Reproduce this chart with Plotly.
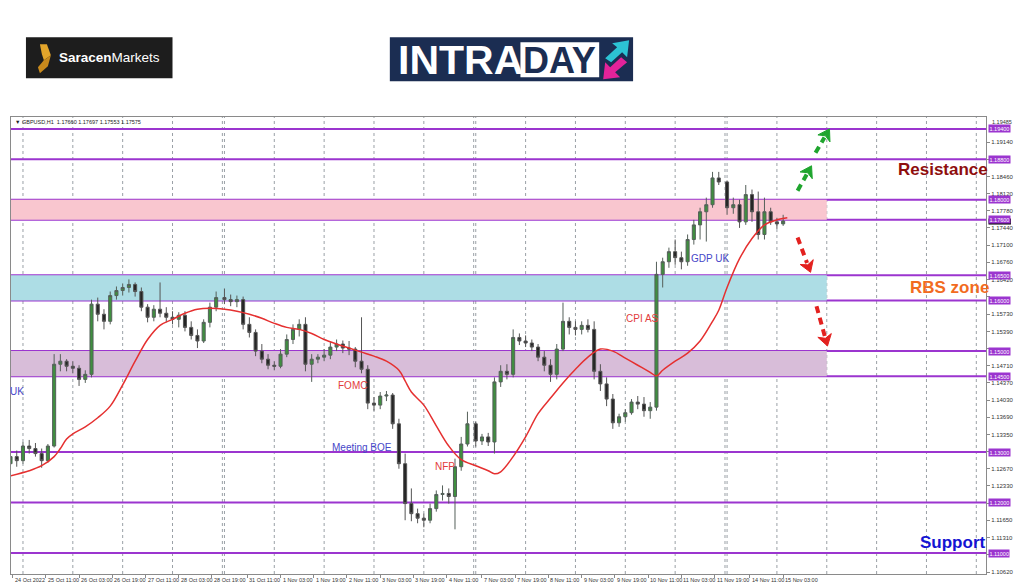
import plotly.graph_objects as go

# ---------------- data ----------------
symbol_header = "\u25BC GBPUSD,H1  1.17660 1.17697 1.17553 1.17575"

trading_days = ["2022-10-25", "2022-10-26", "2022-10-27", "2022-10-28",
                "2022-10-31", "2022-11-01", "2022-11-02", "2022-11-03", "2022-11-04",
                "2022-11-07", "2022-11-08", "2022-11-09", "2022-11-10", "2022-11-11",
                "2022-11-14"]
bar_time = (["2022-10-24 18:00", "2022-10-24 21:00"]
            + [f"{d} {h:02d}:00" for d in trading_days for h in range(0, 24, 3)]
            + ["2022-11-15 00:00", "2022-11-15 03:00"])

open_ = [1.1277, 1.1291, 1.1283, 1.1312, 1.1307, 1.1297, 1.1283, 1.1312, 1.1474, 1.1480,
         1.1470, 1.1466, 1.1444, 1.1454, 1.1593, 1.1573, 1.1559, 1.1610, 1.1620, 1.1626,
         1.1632, 1.1618, 1.1587, 1.1567, 1.1583, 1.1575, 1.1567, 1.1563, 1.1571, 1.1547,
         1.1531, 1.1520, 1.1557, 1.1587, 1.1606, 1.1602, 1.1598, 1.1602, 1.1553, 1.1537,
         1.1500, 1.1484, 1.1472, 1.1470, 1.1494, 1.1523, 1.1543, 1.1553, 1.1474, 1.1484,
         1.1488, 1.1492, 1.1508, 1.1514, 1.1506, 1.1504, 1.1480, 1.1464, 1.1397, 1.1393,
         1.1411, 1.1413, 1.1356, 1.1277, 1.1198, 1.1178, 1.1169, 1.1165, 1.1188, 1.1216,
         1.1218, 1.1212, 1.1271, 1.1316, 1.1356, 1.1322, 1.1330, 1.1320, 1.1439, 1.1460,
         1.1454, 1.1527, 1.1520, 1.1516, 1.1508, 1.1488, 1.1472, 1.1454, 1.1504, 1.1559,
         1.1547, 1.1543, 1.1551, 1.1543, 1.1460, 1.1435, 1.1405, 1.1358, 1.1370, 1.1378,
         1.1399, 1.1395, 1.1382, 1.1389, 1.1652, 1.1677, 1.1697, 1.1685, 1.1677, 1.1721,
         1.1750, 1.1776, 1.1790, 1.1843, 1.1835, 1.1784, 1.1790, 1.1756, 1.1810, 1.1776,
         1.1731, 1.1776, 1.1756, 1.1752]
high = [1.1316, 1.1303, 1.1320, 1.1324, 1.1318, 1.1307, 1.1316, 1.1494, 1.1494, 1.1484,
        1.1480, 1.1472, 1.1462, 1.1602, 1.1606, 1.1583, 1.1618, 1.1628, 1.1634, 1.1642,
        1.1636, 1.1626, 1.1593, 1.1591, 1.1636, 1.1587, 1.1579, 1.1577, 1.1579, 1.1559,
        1.1543, 1.1563, 1.1596, 1.1618, 1.1624, 1.1612, 1.1610, 1.1608, 1.1567, 1.1543,
        1.1514, 1.1494, 1.1480, 1.1504, 1.1533, 1.1553, 1.1563, 1.1567, 1.1494, 1.1494,
        1.1504, 1.1518, 1.1523, 1.1521, 1.1520, 1.1508, 1.1567, 1.1472, 1.1409, 1.1419,
        1.1421, 1.1417, 1.1366, 1.1297, 1.1228, 1.1188, 1.1178, 1.1198, 1.1224, 1.1234,
        1.1228, 1.1287, 1.1330, 1.1380, 1.1360, 1.1336, 1.1338, 1.1448, 1.1472, 1.1474,
        1.1543, 1.1535, 1.1531, 1.1523, 1.1514, 1.1500, 1.1484, 1.1514, 1.1596, 1.1567,
        1.1559, 1.1559, 1.1563, 1.1559, 1.1474, 1.1448, 1.1415, 1.1376, 1.1385, 1.1405,
        1.1411, 1.1409, 1.1399, 1.1677, 1.1685, 1.1705, 1.1721, 1.1697, 1.1731, 1.1760,
        1.1784, 1.1804, 1.1855, 1.1855, 1.1838, 1.1804, 1.1800, 1.1829, 1.1820, 1.1816,
        1.1804, 1.1784, 1.1764, 1.1770]
low = [1.1267, 1.1271, 1.1277, 1.1297, 1.1291, 1.1269, 1.1279, 1.1309, 1.1460, 1.1460,
       1.1456, 1.1431, 1.1437, 1.1448, 1.1559, 1.1543, 1.1553, 1.1602, 1.1610, 1.1616,
       1.1608, 1.1579, 1.1557, 1.1559, 1.1567, 1.1557, 1.1553, 1.1547, 1.1539, 1.1523,
       1.1506, 1.1516, 1.1547, 1.1579, 1.1593, 1.1589, 1.1587, 1.1543, 1.1527, 1.1490,
       1.1476, 1.1464, 1.1462, 1.1466, 1.1488, 1.1514, 1.1529, 1.1460, 1.1439, 1.1476,
       1.1480, 1.1484, 1.1500, 1.1496, 1.1492, 1.1468, 1.1456, 1.1385, 1.1382, 1.1385,
       1.1401, 1.1346, 1.1267, 1.1165, 1.1163, 1.1159, 1.1151, 1.1159, 1.1182, 1.1204,
       1.1198, 1.1147, 1.1263, 1.1311, 1.1311, 1.1314, 1.1312, 1.1297, 1.1429, 1.1444,
       1.1448, 1.1512, 1.1508, 1.1500, 1.1480, 1.1460, 1.1439, 1.1444, 1.1500, 1.1533,
       1.1531, 1.1533, 1.1537, 1.1444, 1.1421, 1.1391, 1.1346, 1.1350, 1.1360, 1.1374,
       1.1385, 1.1370, 1.1366, 1.1382, 1.1626, 1.1665, 1.1671, 1.1662, 1.1669, 1.1711,
       1.1721, 1.1717, 1.1784, 1.1829, 1.1770, 1.1772, 1.1744, 1.1750, 1.1756, 1.1721,
       1.1721, 1.1750, 1.1742, 1.1748]
close = [1.1291, 1.1283, 1.1312, 1.1307, 1.1297, 1.1283, 1.1312, 1.1474, 1.1480, 1.1470,
         1.1466, 1.1444, 1.1454, 1.1593, 1.1573, 1.1559, 1.1610, 1.1620, 1.1626, 1.1632,
         1.1618, 1.1587, 1.1567, 1.1583, 1.1575, 1.1567, 1.1563, 1.1571, 1.1547, 1.1531,
         1.1520, 1.1557, 1.1587, 1.1606, 1.1602, 1.1598, 1.1602, 1.1553, 1.1537, 1.1500,
         1.1484, 1.1472, 1.1470, 1.1494, 1.1523, 1.1543, 1.1553, 1.1474, 1.1484, 1.1488,
         1.1492, 1.1508, 1.1514, 1.1506, 1.1504, 1.1480, 1.1464, 1.1397, 1.1393, 1.1411,
         1.1413, 1.1356, 1.1277, 1.1198, 1.1178, 1.1169, 1.1165, 1.1188, 1.1216, 1.1218,
         1.1212, 1.1271, 1.1316, 1.1356, 1.1322, 1.1330, 1.1320, 1.1439, 1.1460, 1.1454,
         1.1527, 1.1520, 1.1516, 1.1508, 1.1488, 1.1472, 1.1454, 1.1504, 1.1559, 1.1547,
         1.1543, 1.1551, 1.1543, 1.1460, 1.1435, 1.1405, 1.1358, 1.1370, 1.1378, 1.1399,
         1.1395, 1.1382, 1.1389, 1.1652, 1.1677, 1.1697, 1.1685, 1.1677, 1.1721, 1.1750,
         1.1776, 1.1790, 1.1843, 1.1835, 1.1784, 1.1790, 1.1756, 1.1810, 1.1776, 1.1731,
         1.1776, 1.1756, 1.1752, 1.17575]

ma_time = ["2022-10-24 18:00", "2022-10-25 03:00", "2022-10-25 09:00", "2022-10-25 15:00",
           "2022-10-25 18:00", "2022-10-25 21:00", "2022-10-26 00:00", "2022-10-26 06:00",
           "2022-10-26 12:00", "2022-10-26 18:00", "2022-10-27 00:00", "2022-10-27 06:00",
           "2022-10-27 12:00", "2022-10-27 18:00", "2022-10-28 00:00", "2022-10-28 06:00",
           "2022-10-28 12:00", "2022-10-28 18:00", "2022-10-31 00:00", "2022-10-31 06:00",
           "2022-10-31 12:00", "2022-10-31 18:00", "2022-11-01 00:00", "2022-11-01 06:00",
           "2022-11-01 12:00", "2022-11-01 18:00", "2022-11-02 00:00", "2022-11-02 06:00",
           "2022-11-02 12:00", "2022-11-02 18:00", "2022-11-03 00:00", "2022-11-03 06:00",
           "2022-11-03 12:00", "2022-11-03 15:00", "2022-11-03 18:00", "2022-11-04 00:00",
           "2022-11-04 06:00", "2022-11-04 12:00", "2022-11-04 18:00", "2022-11-07 00:00",
           "2022-11-07 06:00", "2022-11-07 09:00", "2022-11-07 12:00", "2022-11-07 18:00",
           "2022-11-08 00:00", "2022-11-08 06:00", "2022-11-08 12:00", "2022-11-08 18:00",
           "2022-11-09 00:00", "2022-11-09 06:00", "2022-11-09 12:00", "2022-11-09 18:00",
           "2022-11-10 00:00", "2022-11-10 06:00", "2022-11-10 12:00", "2022-11-10 15:00",
           "2022-11-10 18:00", "2022-11-11 00:00", "2022-11-11 06:00", "2022-11-11 12:00",
           "2022-11-11 18:00", "2022-11-11 21:00", "2022-11-14 00:00", "2022-11-14 06:00",
           "2022-11-14 12:00", "2022-11-14 18:00", "2022-11-15 00:00", "2022-11-15 05:00"]
ma_value = [1.1253, 1.1263, 1.1273, 1.1291, 1.1307, 1.1326, 1.1336, 1.1350, 1.1368, 1.1391,
            1.1433, 1.1480, 1.1523, 1.1551, 1.1563, 1.1575, 1.1583, 1.1585, 1.1583, 1.1579,
            1.1573, 1.1565, 1.1555, 1.1547, 1.1543, 1.1535, 1.1523, 1.1514, 1.1506, 1.1498,
            1.1490, 1.1480, 1.1462, 1.1441, 1.1419, 1.1393, 1.1352, 1.1312, 1.1285, 1.1273,
            1.1263, 1.1257, 1.1261, 1.1291, 1.1330, 1.1376, 1.1407, 1.1437, 1.1464, 1.1488,
            1.1504, 1.1500, 1.1486, 1.1472, 1.1458, 1.1451, 1.1462, 1.1480, 1.1496, 1.1520,
            1.1559, 1.1581, 1.1626, 1.1683, 1.1723, 1.1750, 1.1760, 1.1764]

level_prices = [1.19400, 1.18800, 1.18000, 1.17600, 1.16500, 1.16000,
                1.15000, 1.14500, 1.13000, 1.12000, 1.11000]
current_price = 1.17575

zone_low = [1.17600, 1.16000, 1.14500]
zone_high = [1.18000, 1.16500, 1.15000]
zone_start = "2022-10-24 00:00"
zone_end = "2022-11-16 00:00"

price_ticks = [1.10620, 1.10970, 1.11310, 1.11650, 1.11990, 1.12330, 1.12670, 1.13010,
               1.13350, 1.13690, 1.14030, 1.14370, 1.14710, 1.15050, 1.15390, 1.15730,
               1.16080, 1.16420, 1.16760, 1.17100, 1.17440, 1.17780, 1.18120, 1.18460,
               1.18800, 1.19140]
top_price_label = 1.19485
# tick labels that sit completely under a price-level box in the reference
hidden_ticks = [1.10970, 1.11990, 1.13010, 1.15050, 1.16080, 1.18800]

label_times = ["2022-10-24 19:00", "2022-10-25 11:00", "2022-10-26 03:00", "2022-10-26 19:00",
               "2022-10-27 11:00", "2022-10-28 03:00", "2022-10-28 19:00", "2022-10-31 11:00",
               "2022-11-01 03:00", "2022-11-01 19:00", "2022-11-02 11:00", "2022-11-03 03:00",
               "2022-11-03 19:00", "2022-11-04 11:00", "2022-11-07 03:00", "2022-11-07 19:00",
               "2022-11-08 11:00", "2022-11-09 03:00", "2022-11-09 19:00", "2022-11-10 11:00",
               "2022-11-11 03:00", "2022-11-11 19:00", "2022-11-14 11:00", "2022-11-15 03:00"]
label_texts = ["24 Oct 2022", "25 Oct 11:00", "26 Oct 03:00", "26 Oct 19:00",
               "27 Oct 11:00", "28 Oct 03:00", "28 Oct 19:00", "31 Oct 11:00",
               "1 Nov 03:00", "1 Nov 19:00", "2 Nov 11:00", "3 Nov 03:00",
               "3 Nov 19:00", "4 Nov 11:00", "7 Nov 03:00", "7 Nov 19:00",
               "8 Nov 11:00", "9 Nov 03:00", "9 Nov 19:00", "10 Nov 11:00",
               "11 Nov 03:00", "11 Nov 19:00", "14 Nov 11:00", "15 Nov 03:00"]

grid_times = ["2022-10-25", "2022-10-26", "2022-10-27", "2022-10-28", "2022-10-30 23:00",
              "2022-10-31", "2022-11-01", "2022-11-02", "2022-11-03", "2022-11-04",
              "2022-11-06 23:00", "2022-11-07", "2022-11-08", "2022-11-09", "2022-11-10",
              "2022-11-11", "2022-11-13 23:00", "2022-11-14", "2022-11-15", "2022-11-16",
              "2022-11-17", "2022-11-18", "2022-11-19"]

event_texts = ["UK", "FOMC", "Meeting BOE", "NFP", "CPI AS", "GDP UK"]
zone_titles = ["Resistance", "RBS zone", "Support"]

# ---------------- layout helpers (pixel -> paper) ----------------
L, R, T, B = 10, 988, 117, 576
W, H = 1024, 587


def px(x):
    return (x - L) / (R - L)


def py(y):
    return (B - y) / (B - T)


fig = go.Figure()

fig.add_trace(go.Candlestick(
    x=bar_time, open=open_, high=high, low=low, close=close,
    increasing=dict(line=dict(color="#55605a", width=1), fillcolor="#3f8f3f"),
    decreasing=dict(line=dict(color="#555555", width=1), fillcolor="#262626"),
    whiskerwidth=0, hoverinfo="skip", showlegend=False))

fig.add_trace(go.Scatter(
    x=ma_time, y=ma_value, mode="lines", line=dict(color="#E53030", width=1.5, shape="spline"),
    hoverinfo="skip", showlegend=False))

shapes = []
zone_colors = ["#F9C6CF", "#ADDDE5", "#D8BDD9"]
for lo, hi, c in zip(zone_low, zone_high, zone_colors):
    shapes.append(dict(type="rect", xref="x", yref="y", x0=zone_start, x1=zone_end,
                       y0=lo, y1=hi, fillcolor=c, line=dict(width=0), layer="below"))
for g in grid_times:
    shapes.append(dict(type="line", xref="x", yref="paper", x0=g, x1=g, y0=0, y1=1,
                       line=dict(color="#9aa0a6", width=1, dash="dot"), layer="below"))
for lv in level_prices:
    shapes.append(dict(type="line", xref="paper", yref="y", x0=0, x1=1, y0=lv, y1=lv,
                       line=dict(color="#9B35CF", width=2), layer="below"))


def dashed_arrow(x0, y0, tx, ty, color):
    dx, dy = tx - x0, ty - y0
    n = (dx * dx + dy * dy) ** 0.5
    ux, uy = dx / n, dy / n
    hl, hw = 11, 7
    bx, by = tx - ux * hl, ty - uy * hl
    shapes.append(dict(type="line", xref="paper", yref="paper",
                       x0=px(x0), y0=py(y0), x1=px(bx + ux * 1), y1=py(by + uy * 1),
                       line=dict(color=color, width=4, dash="7px,5px")))
    p1 = (bx - uy * hw, by + ux * hw)
    p2 = (bx + uy * hw, by - ux * hw)
    path = (f"M {px(tx)},{py(ty)} L {px(p1[0])},{py(p1[1])} "
            f"L {px(bx + ux * 3)},{py(by + uy * 3)} L {px(p2[0])},{py(p2[1])} Z")
    shapes.append(dict(type="path", xref="paper", yref="paper", path=path,
                       fillcolor=color, line=dict(color=color, width=1)))


dashed_arrow(799, 191, 813, 166, "#1FA52E")
dashed_arrow(817, 153, 831, 129, "#1FA52E")
dashed_arrow(799, 238, 812, 273, "#E3211F")
dashed_arrow(818, 307, 829, 347, "#E3211F")

# current price marker on the price scale (mostly hidden under the 1.17600 box)
shapes.append(dict(type="rect", xref="paper", yref="paper", x0=px(990.5), x1=px(1013),
                   y0=py(225), y1=py(219), fillcolor="#000000", line=dict(width=0)))

# ---- logos (decoration) ----
shapes.append(dict(type="rect", xref="paper", yref="paper", x0=px(25), x1=px(172),
                   y0=py(78), y1=py(37), fillcolor="#1d1d1d", line=dict(width=0)))
shapes.append(dict(type="path", xref="paper", yref="paper",
                   path=f"M {px(39)},{py(44)} L {px(46)},{py(44)} L {px(50)},{py(55)} "
                        f"L {px(43)},{py(60)} L {px(41)},{py(54)} Z",
                   fillcolor="#E3A52B", line=dict(width=0)))
shapes.append(dict(type="path", xref="paper", yref="paper",
                   path=f"M {px(43)},{py(60)} L {px(50)},{py(55)} L {px(47)},{py(66)} "
                        f"L {px(39)},{py(73)} L {px(37)},{py(67)} Z",
                   fillcolor="#C98A1C", line=dict(width=0)))
shapes.append(dict(type="rect", xref="paper", yref="paper", x0=px(390), x1=px(634),
                   y0=py(81), y1=py(37), fillcolor="#1B2D52", line=dict(width=0)))
shapes.append(dict(type="rect", xref="paper", yref="paper", x0=px(521), x1=px(600),
                   y0=py(77), y1=py(42), fillcolor="#FFFFFF", line=dict(width=0)))
shapes.append(dict(type="path", xref="paper", yref="paper",
                   path=f"M {px(606)},{py(58)} L {px(618)},{py(47)} L {px(613)},{py(43)} "
                        f"L {px(630)},{py(40)} L {px(628)},{py(57)} L {px(623)},{py(52)} "
                        f"L {px(612)},{py(62)} Z",
                   fillcolor="#2CC3D4", line=dict(width=0)))
shapes.append(dict(type="path", xref="paper", yref="paper",
                   path=f"M {px(628)},{py(62)} L {px(616)},{py(72)} L {px(621)},{py(77)} "
                        f"L {px(604)},{py(79)} L {px(606)},{py(62)} L {px(611)},{py(67)} "
                        f"L {px(622)},{py(57)} Z",
                   fillcolor="#E3239A", line=dict(width=0)))

ann = []
ann.append(dict(xref="paper", yref="paper", x=px(56), y=py(57), xanchor="left", yanchor="middle",
                text="<b>Saracen</b>Markets", showarrow=False,
                font=dict(family="Liberation Sans", size=13.5, color="#FFFFFF")))
ann.append(dict(xref="paper", yref="paper", x=px(396), y=py(60), xanchor="left", yanchor="middle",
                text="<b>INTRA</b>", showarrow=False,
                font=dict(family="Liberation Sans", size=41, color="#FFFFFF")))
ann.append(dict(xref="paper", yref="paper", x=px(560.5), y=py(60), xanchor="center", yanchor="middle",
                text="<b>DAY</b>", showarrow=False,
                font=dict(family="Liberation Sans", size=36, color="#1B2D52")))

# header
ann.append(dict(xref="paper", yref="paper", x=px(12), y=py(122), xanchor="left", yanchor="middle",
                text=symbol_header, showarrow=False,
                font=dict(family="Liberation Sans", size=5.5, color="#222222")))

# x labels (left-aligned at bar like MT4)
for t, s in zip(label_times, label_texts):
    ann.append(dict(xref="x", yref="paper", x=t, y=py(577.5), xanchor="left", yanchor="top",
                    text=s, showarrow=False,
                    font=dict(family="Liberation Sans", size=5.5, color="#333333")))

# topmost price-scale label, squeezed just above the 1.19400 box as in MT4
ann.append(dict(xref="paper", yref="paper", x=px(992), y=py(122), xanchor="left",
                yanchor="middle", text=f"{top_price_label:.5f}", showarrow=False,
                font=dict(family="Liberation Sans", size=5.5, color="#333333")))

# price level boxes on right axis
for lv in level_prices:
    ann.append(dict(xref="paper", yref="y", x=px(990.5), y=lv, xanchor="left",
                    yanchor="middle", text=f"{lv:.5f}", showarrow=False,
                    bgcolor="#9B35CF", borderpad=0.5,
                    font=dict(family="Liberation Sans", size=5.5, color="#FFFFFF")))

# event labels
event_pos = [(16.5, 393), (353, 387), (362, 449), (445, 468), (643, 319), (711, 259)]
event_col = ["#4646C8", "#E23B3B", "#4646C8", "#E23B3B", "#E23B3B", "#4646C8"]
for s, (x, y), c in zip(event_texts, event_pos, event_col):
    ann.append(dict(xref="paper", yref="paper", x=px(x), y=py(y), xanchor="center",
                    yanchor="middle", text=s, showarrow=False,
                    font=dict(family="Liberation Sans", size=10, color=c)))

title_pos = [(992, 170), (993, 288), (989, 544)]
title_col = ["#8E0E0E", "#F26B21", "#1414D2"]
for s, (x, y), c in zip(zone_titles, title_pos, title_col):
    ann.append(dict(xref="paper", yref="paper", x=px(x), y=py(y), xanchor="right",
                    yanchor="middle", text=f"<b>{s}</b>", showarrow=False,
                    font=dict(family="Liberation Sans", size=17, color=c)))

fig.update_layout(
    width=W, height=H,
    margin=dict(l=L, r=W - R, t=T, b=H - B, pad=0),
    paper_bgcolor="#FFFFFF", plot_bgcolor="#FFFFFF",
    showlegend=False, shapes=shapes, annotations=ann,
    font=dict(family="Liberation Sans"),
    xaxis=dict(type="date", range=["2022-10-24 18:14", "2022-11-19 04:40"],
               rangebreaks=[dict(values=["2022-10-29 00:00", "2022-11-05 00:00",
                                         "2022-11-12 00:00"], dvalue=47 * 3600 * 1000)],
               rangeslider=dict(visible=False), showgrid=False, zeroline=False,
               showline=True, mirror=True, linecolor="#8a8a8a", linewidth=1,
               tickvals=label_times, showticklabels=False, ticks="outside", ticklen=3,
               tickcolor="#8a8a8a"),
    yaxis=dict(side="right", range=[1.10585, 1.19637], tickvals=price_ticks,
               ticktext=["" if v in hidden_ticks else f"{v:.5f}" for v in price_ticks],
               showgrid=False, zeroline=False,
               showline=True, mirror=True, linecolor="#8a8a8a", linewidth=1,
               ticks="outside", ticklen=3, tickcolor="#8a8a8a",
               tickfont=dict(family="Liberation Sans", size=6, color="#333333")),
)

fig.write_html("out.html", config={"displayModeBar": False},
               post_script="document.body.style.margin='0';document.body.style.overflow='hidden';")
